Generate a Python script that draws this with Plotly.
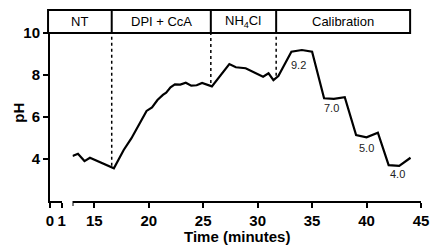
import plotly.graph_objects as go

# ---- data ----
time_min = [13.0, 13.5, 14.1, 14.6, 16.8, 17.7, 18.4, 19.2, 19.8, 20.3, 20.8, 21.3, 21.6,
            22.0, 22.4, 22.9, 23.4, 23.9, 24.4, 24.9, 25.3, 25.8, 27.4, 28.0, 28.9, 29.8,
            30.5, 31.0, 31.45, 31.9, 33.1, 34.06, 35.0, 36.1, 37.0, 38.0, 39.04, 40.0,
            41.04, 42.03, 43.0, 44.04]
ph = [4.14, 4.25, 3.9, 4.06, 3.56, 4.43, 4.98, 5.7, 6.29, 6.46, 6.81, 7.05, 7.16,
      7.41, 7.55, 7.54, 7.63, 7.49, 7.51, 7.62, 7.56, 7.46, 8.52, 8.37, 8.32, 8.11,
      7.92, 8.08, 7.76, 7.95, 9.11, 9.19, 9.11, 6.89, 6.86, 6.94, 5.14, 5.03,
      5.25, 3.71, 3.67, 4.06]

phase_labels = ["NT", "DPI + CcA", "NH<sub>4</sub>Cl", "Calibration"]
phase_bounds = [16.6, 25.7, 31.7]   # divider positions (minutes)
phase_end = 44.0
divider_ph = [3.68, 7.62, 7.97]

calib_labels = ["9.2", "7.0", "5.0", "4.0"]
calib_x = [33.77, 36.8, 40.04, 42.84]
calib_y = [8.48, 6.43, 4.52, 3.29]

x1_ticks = [0, 1]
x1_ticktext = ["0", "1"]
x2_ticks = [15, 20, 25, 30, 35, 40, 45]
x2_ticktext = ["15", "20", "25", "30", "35", "40", "45"]
y_ticks = [4, 6, 8, 10]

# ---- layout geometry ----
W, H = 437, 249
ML, MR, MT, MB = 50, 8, 33, 48
PW = W - ML - MR
PH = H - MT - MB
x2_lo, x2_hi = 13, 45
x2_dom = [23 / PW, 1.0]


def xpaper(v):
    return x2_dom[0] + (v - x2_lo) / (x2_hi - x2_lo) * (x2_dom[1] - x2_dom[0])


FONT = "Liberation Sans, Arial, sans-serif"
tickfont = dict(family=FONT, size=15, color="black", weight="bold")

fig = go.Figure()
# placeholder trace so the first (0-1) axis segment and the y axis are drawn
fig.add_trace(go.Scatter(x=[None], y=[None], mode="lines", xaxis="x", yaxis="y",
                         showlegend=False, hoverinfo="skip"))
fig.add_trace(go.Scatter(x=time_min, y=ph, mode="lines", xaxis="x2", yaxis="y",
                         line=dict(color="black", width=2.2), showlegend=False,
                         hoverinfo="skip"))

box_top = 1 + 23 / PH
box_left = -2 / PW
shapes = [dict(type="rect", xref="paper", yref="paper", x0=box_left, x1=xpaper(phase_end),
               y0=1, y1=box_top, line=dict(color="black", width=2))]
for b, yv in zip(phase_bounds, divider_ph):
    shapes.append(dict(type="line", xref="paper", yref="paper", x0=xpaper(b), x1=xpaper(b),
                       y0=1, y1=box_top, line=dict(color="black", width=2)))
    shapes.append(dict(type="line", xref="x2", yref="y", x0=b, x1=b, y0=yv, y1=10,
                       line=dict(color="black", width=1.5, dash="dot")))
# start-of-segment tick on the broken axis
shapes.append(dict(type="line", xref="x2", yref="paper", x0=x2_lo, x1=x2_lo,
                   y0=0, y1=-5 / PH, line=dict(color="black", width=2)))

annotations = []
edges = [box_left] + [xpaper(b) for b in phase_bounds] + [xpaper(phase_end)]
for i, lab in enumerate(phase_labels):
    annotations.append(dict(text=lab, xref="paper", yref="paper",
                            x=(edges[i] + edges[i + 1]) / 2, y=(1 + box_top) / 2,
                            showarrow=False, font=dict(family=FONT, size=13, color="black"),
                            xanchor="center", yanchor="middle"))
for lab, xv, yv in zip(calib_labels, calib_x, calib_y):
    annotations.append(dict(text=lab, xref="x2", yref="y", x=xv, y=yv, showarrow=False,
                            font=dict(family=FONT, size=11, color="#222"),
                            xanchor="center", yanchor="middle"))
annotations.append(dict(text="Time (minutes)", xref="paper", yref="paper", x=(241 - ML) / PW,
                        y=-(237 - (MT + PH)) / PH,
                        showarrow=False, font=dict(family=FONT, size=15, color="black", weight="bold"),
                        xanchor="center", yanchor="middle"))
annotations.append(dict(text="pH", xref="paper", yref="paper", x=-(ML - 17) / PW,
                        y=((MT + PH) - 113) / PH,
                        showarrow=False, textangle=-90,
                        font=dict(family=FONT, size=15, color="black", weight="bold"),
                        xanchor="center", yanchor="middle"))

axis_common = dict(showline=True, linecolor="black", linewidth=2, ticks="outside",
                   ticklen=5, tickwidth=2, tickcolor="black", showgrid=False, zeroline=False,
                   tickfont=tickfont, fixedrange=True)

fig.update_layout(
    width=W, height=H,
    margin=dict(l=ML, r=MR, t=MT, b=MB),
    paper_bgcolor="white", plot_bgcolor="white",
    xaxis=dict(domain=[0, 12 / PW], range=[0, 1], tickvals=x1_ticks, ticktext=x1_ticktext,
               anchor="y", **axis_common),
    xaxis2=dict(domain=x2_dom, range=[x2_lo, x2_hi], tickvals=x2_ticks, ticktext=x2_ticktext,
                anchor="y", **axis_common),
    yaxis=dict(range=[2, 10], tickvals=y_ticks, anchor="x", **axis_common),
    shapes=shapes,
    annotations=annotations,
)

fig.write_html("out.html", config={"displayModeBar": False},
               post_script="document.body.style.margin='0';")
